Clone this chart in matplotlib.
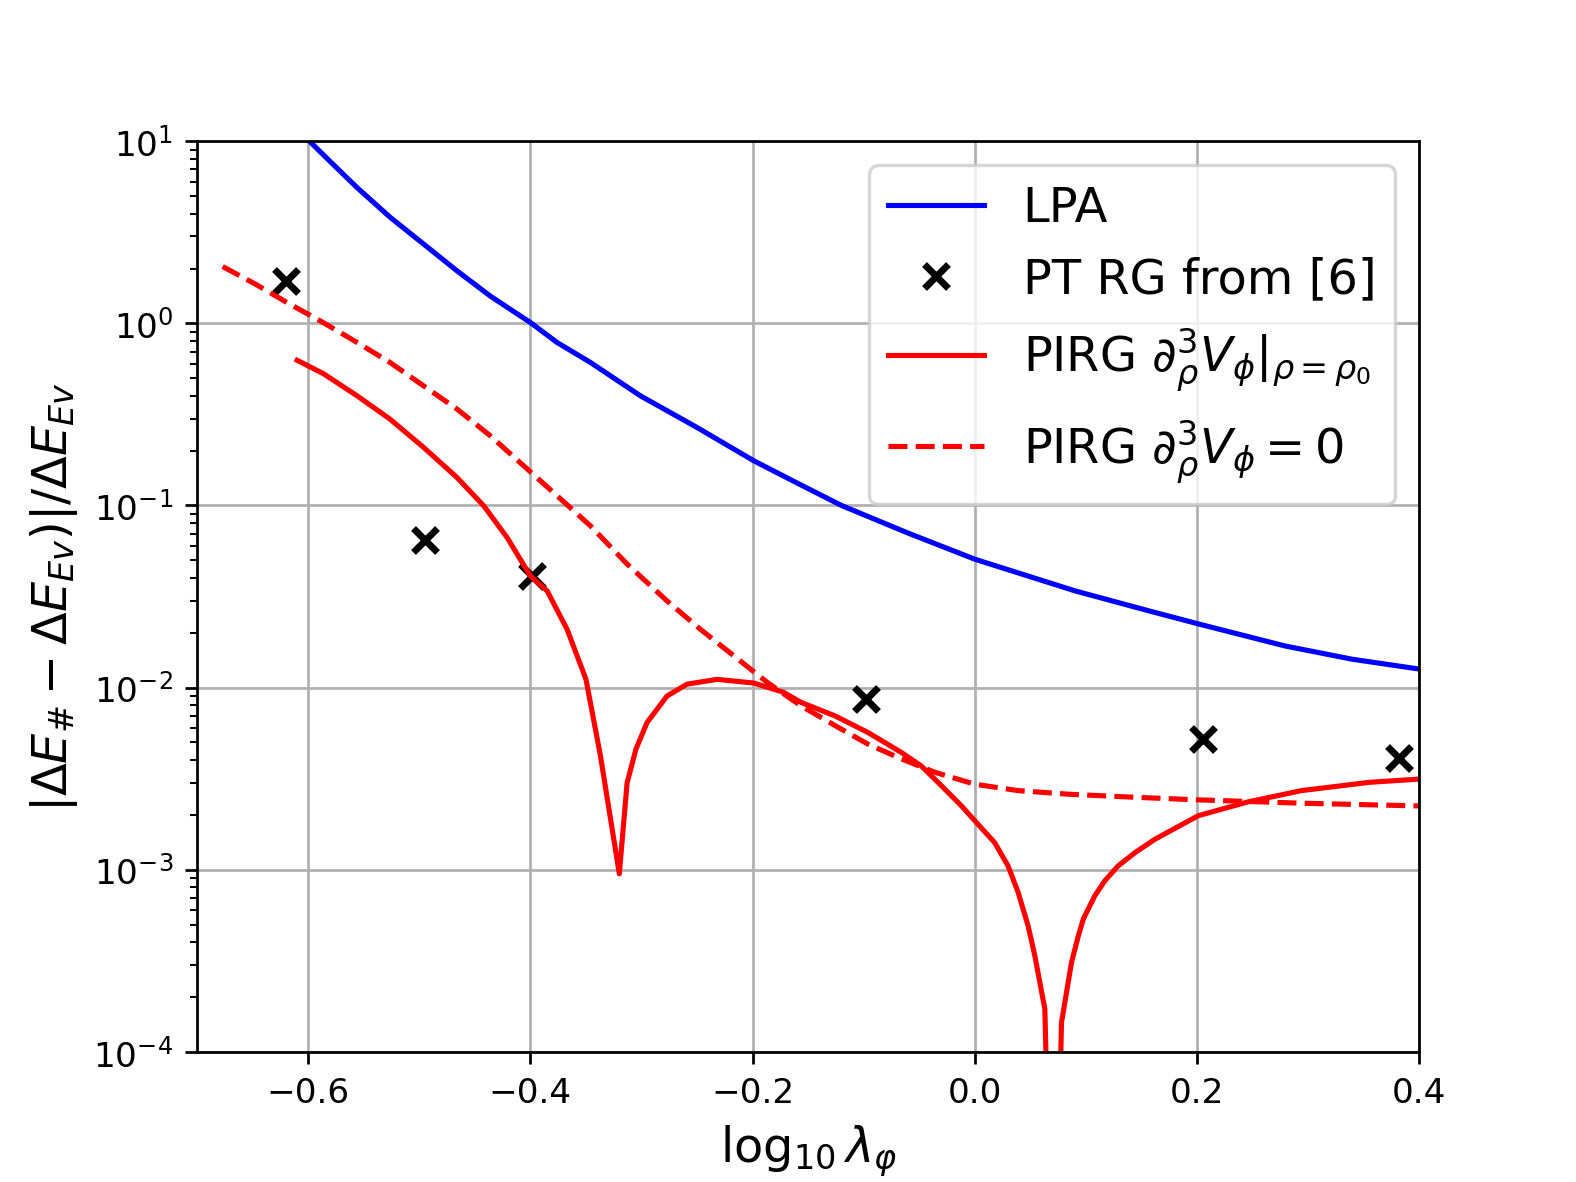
import matplotlib
matplotlib.use("Agg")
import matplotlib.pyplot as plt

# LPA
lpa_x = [-0.601, -0.5775, -0.556, -0.526, -0.496, -0.466, -0.436, -0.400, -0.376, -0.346,
         -0.301, -0.250, -0.199, -0.1595, -0.120, -0.060, 0.0, 0.090, 0.1586, 0.2018,
         0.279, 0.3396, 0.401]
lpa_y = [10.3, 7.45, 5.56, 3.81, 2.72, 1.94, 1.41, 1.01, 0.785, 0.61,
         0.40, 0.268, 0.176, 0.1324, 0.100, 0.0705, 0.0507, 0.034, 0.0262, 0.02233,
         0.01694, 0.01432, 0.01262]

# PT RG from [6]
pt_x = [-0.620, -0.495, -0.399, -0.098, 0.205, 0.382]
pt_y = [1.70, 0.065, 0.041, 0.0087, 0.0052, 0.0041]

# PIRG with d^3 V at rho0
pirg_x = [-0.610, -0.5865, -0.556, -0.5264, -0.496, -0.4662, -0.442, -0.421, -0.400, -0.385,
          -0.367, -0.350, -0.337, -0.320, -0.313, -0.305, -0.295, -0.277, -0.259, -0.232,
          -0.199, -0.172, -0.1565, -0.126, -0.0964, -0.066, -0.0483, -0.030, -0.012, 0.0013,
          0.0178, 0.0299, 0.039, 0.048, 0.054, 0.063, 0.071, 0.078, 0.087, 0.093,
          0.0976, 0.108, 0.117, 0.129, 0.144, 0.162, 0.201, 0.246, 0.294, 0.355,
          0.401]
pirg_y = [0.627, 0.530, 0.40, 0.298, 0.208, 0.1426, 0.0995, 0.0667, 0.041, 0.034,
          0.0209, 0.0111, 0.00423, 0.00095, 0.0030, 0.0046, 0.00644, 0.0090, 0.01045, 0.0111,
          0.0106, 0.00942, 0.0083, 0.0070, 0.00568, 0.0044, 0.00372, 0.00289, 0.00224, 0.00182,
          0.00141, 0.00105, 0.00075, 0.00049, 0.000337, 0.000172, 0.000002, 0.000145, 0.00031, 0.00043,
          0.000536, 0.00072, 0.00087, 0.00105, 0.00124, 0.00147, 0.00198, 0.00236, 0.00272, 0.00302,
          0.00315]

# PIRG with d^3 V = 0
pirg0_x = [-0.677, -0.6466, -0.620, -0.5865, -0.556, -0.5264, -0.496, -0.466, -0.436, -0.406,
           -0.376, -0.346, -0.313, -0.277, -0.247, -0.217, -0.187, -0.1565, -0.126, -0.0964,
           -0.066, -0.036, -0.0002, 0.039, 0.084, 0.144, 0.201, 0.294, 0.401]
pirg0_y = [2.05, 1.63, 1.31, 1.01, 0.785, 0.61, 0.453, 0.338, 0.241, 0.165,
           0.113, 0.0773, 0.0477, 0.0299, 0.0209, 0.01496, 0.0107, 0.00794, 0.0062, 0.0049,
           0.00406, 0.00343, 0.00295, 0.00272, 0.0026, 0.0025, 0.00242, 0.00232, 0.00224]

fig, ax = plt.subplots(figsize=(6.4, 4.8), dpi=246.4)
ax.plot(lpa_x, lpa_y, color='blue', lw=1.5, label='LPA')
ax.plot(pt_x, pt_y, 'x', color='black', ms=7, mew=2, label='PT RG from [6]')
ax.plot(pirg_x, pirg_y, color='red', lw=1.5, label=r'PIRG $\partial_\rho^3 V_\phi|_{\rho=\rho_0}$')
ax.plot(pirg0_x, pirg0_y, '--', color='red', lw=1.5, label=r'PIRG $\partial_\rho^3 V_\phi = 0$')

ax.set_yscale('log')
ax.set_xlim(-0.7, 0.4)
ax.set_ylim(1e-4, 10)
ax.grid(True, which='major')
ax.set_xlabel(r'$\log_{10}\lambda_\varphi$', fontsize=14)
ax.set_ylabel(r'$|\Delta E_{\#} - \Delta E_{Ev})|/\Delta E_{Ev}$', fontsize=14)
ax.legend(loc='upper right', fontsize=14)

fig.savefig('out.png', dpi=246.4)
